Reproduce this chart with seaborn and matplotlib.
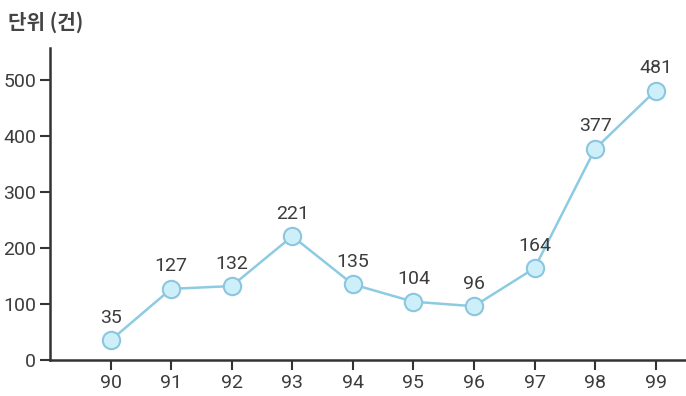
import matplotlib
matplotlib.use("Agg")
import matplotlib.pyplot as plt
import seaborn as sns
import pandas as pd

years = ["90", "91", "92", "93", "94", "95", "96", "97", "98", "99"]
cases = [35, 127, 132, 221, 135, 104, 96, 164, 377, 481]
y_ticks = [0, 100, 200, 300, 400, 500]

sns.set_theme(style="white")
plt.rcParams["font.family"] = ["Roboto", "DejaVu Sans"]

df = pd.DataFrame({"x": range(len(years)), "year": years, "cases": cases})

fig = plt.figure(figsize=(6.86, 3.96), dpi=100)
ax = fig.add_axes([0.0729, 0.0909, 0.9271, 0.788])

line_c = "#8ccbe2"
sns.lineplot(data=df, x="x", y="cases", ax=ax, color=line_c, linewidth=1.8,
             marker="o", markersize=12.5, markerfacecolor="#cdeffa",
             markeredgecolor="#8cc6de", markeredgewidth=1.5)

txt_c = "#3c3c3c"
for xi, v in zip(df["x"], df["cases"]):
    ax.text(xi, v + 24, str(v), ha="center", va="bottom", fontsize=14,
            color=txt_c)

ax.set_xlim(-1, 9.5)
ax.set_ylim(0, 557)
ax.set_xticks(df["x"])
ax.set_xticklabels(years)
ax.set_yticks(y_ticks)
ax.set_xlabel("")
ax.set_ylabel("")
ax.tick_params(axis="both", labelsize=14, labelcolor=txt_c, colors="#333333",
               length=7, width=1.5, direction="out", bottom=True, left=True,
               pad=3)
for s in ["top", "right"]:
    ax.spines[s].set_visible(False)
for s in ["left", "bottom"]:
    ax.spines[s].set_color("#333333")
    ax.spines[s].set_linewidth(1.8)

fig.text(0.012, 0.945, "단위 (건)", fontsize=14.5, color="#444444",
         family=["Noto Sans CJK KR", "DejaVu Sans"], fontweight="bold",
         va="center", ha="left")

fig.savefig("out.png", dpi=100)
